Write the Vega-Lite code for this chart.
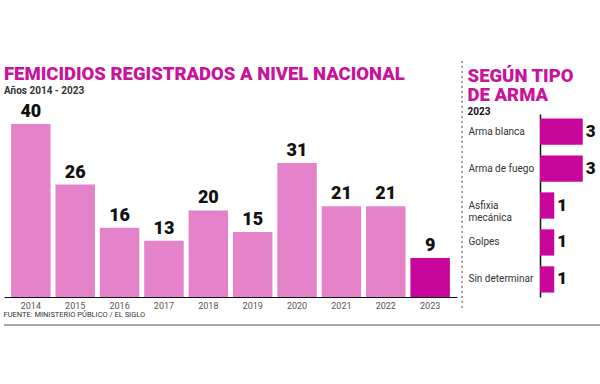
{
  "$schema": "https://vega.github.io/schema/vega-lite/v6.json",
  "padding": {"left": 3, "top": 60, "right": 0, "bottom": 0},
  "background": "#ffffff",
  "config": {
    "view": {"stroke": null},
    "font": "Roboto",
    "title": {"anchor": "start", "color": "#C8139B", "font": "Roboto", "fontWeight": 900, "fontSize": 18.5, "subtitleColor": "#333333", "subtitleFont": "Roboto", "subtitleFontWeight": "bold", "subtitleFontSize": 10}
  },
  "datasets": {
    "anual": [
      {"anio": "2014", "casos": 40},
      {"anio": "2015", "casos": 26},
      {"anio": "2016", "casos": 16},
      {"anio": "2017", "casos": 13},
      {"anio": "2018", "casos": 20},
      {"anio": "2019", "casos": 15},
      {"anio": "2020", "casos": 31},
      {"anio": "2021", "casos": 21},
      {"anio": "2022", "casos": 21},
      {"anio": "2023", "casos": 9}
    ],
    "arma": [
      {"tipo": "Arma blanca", "casos": 3},
      {"tipo": "Arma de fuego", "casos": 3},
      {"tipo": "Asfixia mecánica", "casos": 1},
      {"tipo": "Golpes", "casos": 1},
      {"tipo": "Sin determinar", "casos": 1}
    ],
    "pie": [{"v": 0}]
  },
  "bounds": "full",
  "spacing": -2,
  "vconcat": [
    {
      "bounds": "flush",
      "spacing": 83,
      "hconcat": [
        {
          "width": 453,
          "height": 183,
          "title": {"text": "FEMICIDIOS REGISTRADOS A NIVEL NACIONAL", "subtitle": "Años 2014 - 2023", "offset": 7, "subtitlePadding": 2},
          "data": {"name": "anual"},
          "encoding": {
            "x": {"field": "anio", "type": "ordinal", "scale": {"paddingInner": 0.11, "paddingOuter": 0.16}, "axis": {"title": null, "labelAngle": 0, "ticks": false, "domainColor": "#111111", "domainWidth": 1.2, "labelColor": "#555555", "labelFontSize": 9, "labelPadding": 4, "labelFont": "Roboto"}},
            "y": {"field": "casos", "type": "quantitative", "scale": {"domain": [0, 42.3], "nice": false}, "axis": null}
          },
          "layer": [
            {
              "mark": {"type": "bar"},
              "encoding": {
                "color": {"condition": {"test": "datum.anio == '2023'", "value": "#C8069B"}, "value": "#E583CA"}
              }
            },
            {
              "mark": {"type": "text", "baseline": "bottom", "dy": -3, "fontSize": 18, "fontWeight": 900, "color": "#111111", "font": "Roboto"},
              "encoding": {"text": {"field": "casos", "type": "quantitative"}}
            }
          ]
        },
        {
          "width": 57,
          "height": 183,
          "title": {"text": ["SEGÚN TIPO", "DE ARMA"], "subtitle": "2023", "fontSize": 18.5, "lineHeight": 19, "offset": -57, "dx": 6, "subtitleColor": "#111111", "subtitlePadding": 3},
          "resolve": {"scale": {"y": "independent"}, "axis": {"y": "independent"}},
          "layer": [
            {
              "mark": {"type": "rule", "strokeDash": [2, 3], "color": "#444444", "strokeWidth": 1},
              "data": {"name": "pie"},
              "encoding": {
                "x": {"datum": -5.47, "type": "quantitative", "scale": {"domain": [0, 4], "nice": false}, "axis": null},
                "y": {"datum": 1.29, "type": "quantitative", "scale": {"domain": [0, 1], "nice": false}, "axis": null},
                "y2": {"datum": -0.075}
              }
            },
            {
              "data": {"name": "arma"},
              "encoding": {
                "y": {"field": "tipo", "type": "nominal", "sort": null, "scale": {"paddingInner": 0.29, "paddingOuter": 0.12}, "axis": {"title": null, "ticks": false, "domainColor": "#111111", "domainWidth": 1.5, "labelAlign": "left", "labelPadding": 72, "labelColor": "#333333", "labelFontSize": 10, "labelFont": "Roboto", "labelLineHeight": 12, "labelExpr": "datum.label == 'Asfixia mecánica' ? ['Asfixia', 'mecánica'] : datum.label"}},
                "x": {"field": "casos", "type": "quantitative", "scale": {"domain": [0, 4], "nice": false}, "axis": null}
              },
              "layer": [
                {"mark": {"type": "bar", "color": "#C8069B"}},
                {
                  "mark": {"type": "text", "align": "left", "dx": 3, "fontSize": 17, "fontWeight": 900, "color": "#111111", "font": "Roboto"},
                  "encoding": {"text": {"field": "casos", "type": "quantitative"}}
                }
              ]
            }
          ]
        }
      ]
    },
    {
      "width": 597,
      "height": 0,
      "title": {"text": "FUENTE: MINISTERIO PÚBLICO / EL SIGLO", "fontSize": 7.5, "fontWeight": "normal", "color": "#333333", "font": "Roboto", "offset": -3},
      "data": {"name": "pie"},
      "mark": {"type": "rule", "color": "#555555", "strokeWidth": 1},
      "encoding": {
        "x": {"datum": 0, "type": "quantitative", "scale": {"domain": [0, 1]}, "axis": null},
        "x2": {"datum": 1}
      }
    }
  ]
}
